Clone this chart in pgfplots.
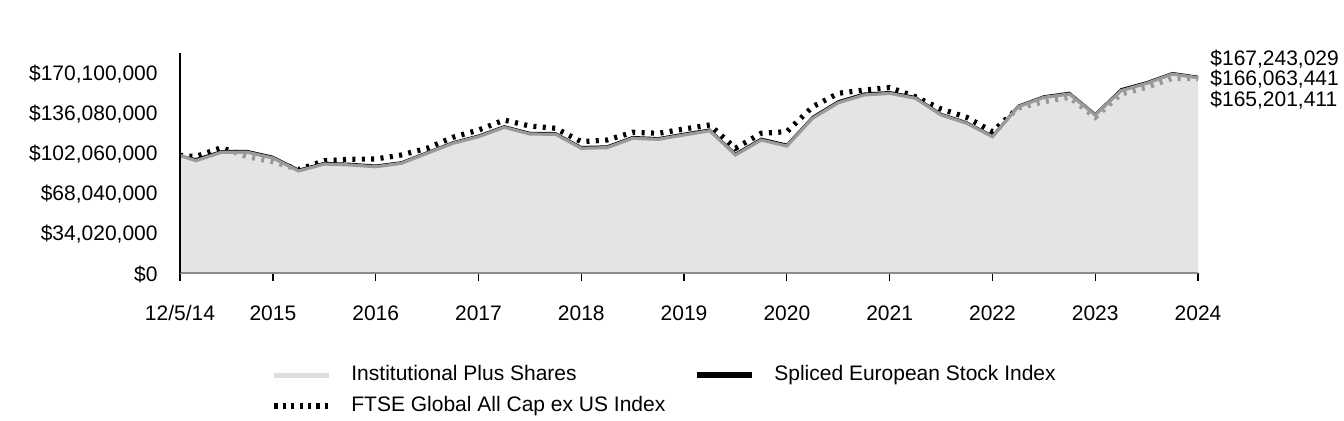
\documentclass[border=0pt]{standalone}
\usepackage{pgfplots}
\pgfplotsset{compat=1.18}
\usepackage{fontspec}
\setmainfont{Liberation Sans}
\definecolor{instline}{HTML}{9A9A9A}
\definecolor{instfill}{HTML}{D9D9D9}
\definecolor{instleg}{HTML}{DEDEDE}
\definecolor{xaxisgray}{HTML}{8C8C8C}
\begin{document}
\fontsize{10.5pt}{12.6pt}\selectfont
\begin{tikzpicture}[font=\fontsize{10.5pt}{12.6pt}\selectfont]
\useasboundingbox (-90pt,-73.5pt) rectangle (582pt,136.5pt);
\begin{axis}[at={(0pt,0pt)}, anchor=south west, scale only axis,
  width=509pt, height=110pt,
  xmin=0.0959, xmax=10, ymin=0, ymax=187.11,
  clip=false, axis on top,
  axis x line=bottom, axis y line=left, axis line style={-},
  x axis line style={draw=xaxisgray, line width=1pt},
  y axis line style={draw=black, line width=1pt},
  tick align=outside, major tick length=4pt,
  xtick={0.0959,1,2,3,4,5,6,7,8,9,10},
  xticklabels={12/5/14,2015,2016,2017,2018,2019,2020,2021,2022,2023,2024},
  xtick style={draw=black, line width=0.6pt},
  xticklabel style={inner sep=0pt, yshift=-12pt},
  ytick={0,34.02,68.04,102.06,136.08,170.1},
  yticklabels={{\$0},{\$34,020,000},{\$68,040,000},{\$102,060,000},{\$136,080,000},{\$170,100,000}},
  ytick style={draw=none},
  yticklabel style={inner sep=0pt, xshift=-7pt, yshift=-0.5pt},
  legend image code/.code={\draw[#1] (0pt,0pt) -- (27.5pt,0pt);},
  legend style={at={(axis description cs:0.0835,-0.3977)}, anchor=north west,
    draw=none, fill=none, legend columns=2, legend cell align=left,
    nodes={inner sep=0pt, text height=8pt, text depth=2.5pt},
    row sep=5pt,
    /tikz/every odd column/.append style={column sep=9.5pt},
    /tikz/every even column/.append style={column sep=14.5pt}},
]
\addlegendimage{draw=instleg, line width=2.5pt}
\addlegendentry{Institutional Plus Shares}
\addlegendimage{draw=black, line width=3pt}
\addlegendentry{Spliced European Stock Index}
\addlegendimage{draw=black, line width=3pt, dash pattern=on 1.6pt off 2.6pt}
\addlegendentry{FTSE Global All Cap ex US Index}

% FTSE Global All Cap ex US Index
\addplot[forget plot, draw=black, line width=2.6pt, dash pattern=on 1.5pt off 3.2pt] table {
x y
0.0959 100
0.25 99.1
0.5 106.6
0.75 98.9
1.0 94.7
1.25 88.0
1.5 95.5
1.75 96.7
2.0 97.0
2.25 100.4
2.5 106.1
2.75 115.4
3.0 121.6
3.25 130.1
3.5 125.0
3.75 123.1
4.0 111.7
4.25 113.1
4.5 119.7
4.75 118.8
5.0 122.5
5.25 125.9
5.5 106.1
5.75 118.8
6.0 120.2
6.25 141.4
6.5 152.8
6.75 155.6
7.0 157.8
7.25 149.9
7.5 139.5
7.75 132.4
8.0 120.2
8.25 140.3
8.5 145.7
8.75 149.4
9.0 132.4
9.25 152.2
9.5 157.9
9.75 165.6
10.0 165.20
};

% Spliced European Stock Index
\addplot[forget plot, draw=black, line width=0.7pt] table {
x y
0.0959 100
0.25 97.2
0.5 104.0
0.75 104.1
1.0 99.2
1.25 88.2
1.5 94.0
1.75 93.2
2.0 91.7
2.25 94.5
2.5 103.0
2.75 111.5
3.0 117.2
3.25 125.2
3.5 119.5
3.75 119.3
4.0 107.5
4.25 108.0
4.5 116.0
4.75 115.0
5.0 118.8
5.25 122.4
5.5 101.9
5.75 114.6
6.0 109.5
6.25 133.2
6.5 146.4
6.75 152.9
7.0 154.2
7.25 150.0
7.5 135.7
7.75 128.5
8.0 117.1
8.25 142.6
8.5 150.6
8.75 153.6
9.0 135.6
9.25 156.6
9.5 162.6
9.75 170.4
10.0 167.24
};

% Institutional Plus Shares (area + line)
\pgfplotstableread{
x y
0.0959 100
0.25 95.5
0.5 102.7
0.75 102.7
1.0 97.8
1.25 86.8
1.5 92.7
1.75 91.9
2.0 90.4
2.25 93.3
2.5 101.8
2.75 110.3
3.0 115.9
3.25 123.9
3.5 118.2
3.75 118.0
4.0 106.1
4.25 106.6
4.5 114.6
4.75 113.7
5.0 117.4
5.25 121.0
5.5 100.4
5.75 113.1
6.0 108.0
6.25 131.6
6.5 144.8
6.75 151.4
7.0 152.8
7.25 148.6
7.5 134.4
7.75 127.3
8.0 115.9
8.25 141.4
8.5 149.4
8.75 152.2
9.0 134.4
9.25 155.0
9.5 161.3
9.75 169.2
10.0 166.06
}\insttable
\addplot[forget plot, draw=none, fill=instfill, fill opacity=0.7] table {\insttable} \closedcycle;
\addplot[forget plot, draw=instline, line width=1.6pt] table {\insttable};
\end{axis}
\node[anchor=west, inner sep=0pt] at (515pt,107.2pt) {\$167,243,029};
\node[anchor=west, inner sep=0pt] at (515pt,97.2pt) {\$166,063,441};
\node[anchor=west, inner sep=0pt] at (515pt,86.7pt) {\$165,201,411};
\end{tikzpicture}
\end{document}
